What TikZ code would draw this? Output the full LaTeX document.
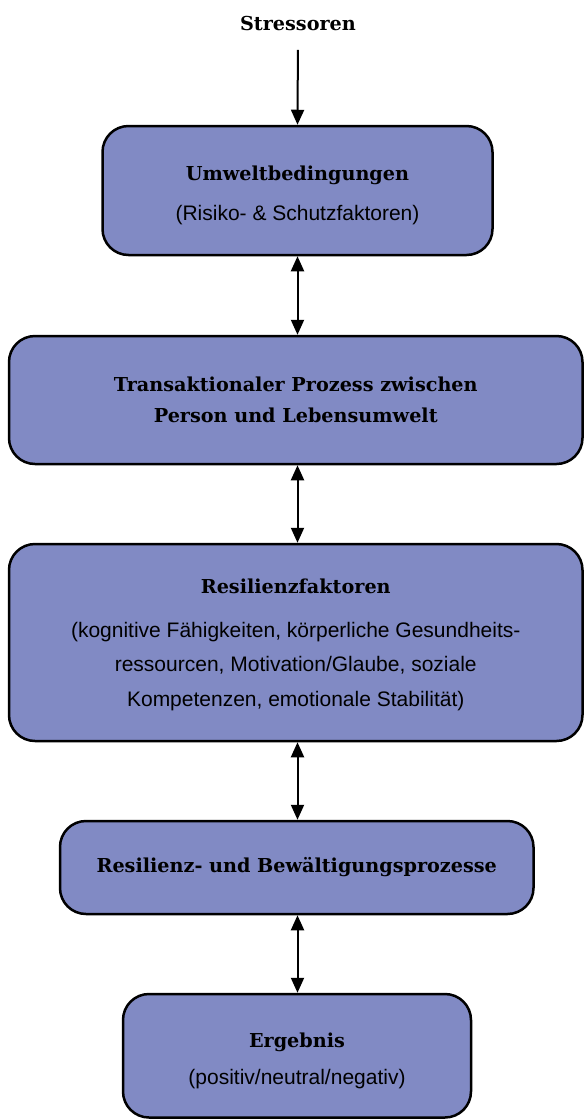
\documentclass[tikz,border=0pt]{standalone}
\usepackage{fontspec}
\setmainfont{Liberation Sans}
\newfontfamily\serifttl{DejaVu Serif}
\usetikzlibrary{arrows.meta}
\definecolor{boxfill}{RGB}{129,138,196}
\tikzset{
  box/.style={draw=black, line width=2.5pt, fill=boxfill, rounded corners=26pt,
    align=center, inner sep=0pt, text=black, font=\sub},
  conn/.style={line width=2pt, {Triangle[length=15pt,width=13pt]}-{Triangle[length=15pt,width=13pt]}},
  oneway/.style={line width=2pt, -{Triangle[length=15pt,width=13pt]}},
}
\newcommand{\ttl}{\serifttl\bfseries\fontsize{19.2}{31}\selectfont}
\newcommand{\sub}{\fontsize{21}{34.5}\selectfont}
\newcommand{\lift}[1]{\rule{0pt}{#1}}
\begin{document}
\begin{tikzpicture}[x=1pt,y=-1pt]
\useasboundingbox (0,0) rectangle (584,1120);
\node[font=\ttl] (s0) at (298,24) {Stressoren};
\node[box, minimum width=390pt, minimum height=129pt] (b1) at (297.5,190.5)
  {\lift{24.6pt}\ttl Umweltbedingungen\\[5.5pt](Risiko- \& Schutzfaktoren)};
\node[box, font=\ttl, minimum width=573.5pt, minimum height=128pt] (b2) at (295.75,400)
  {Transaktionaler Prozess zwischen\\Person und Lebensumwelt};
\node[box, minimum width=573.5pt, minimum height=197pt] (b3) at (295.75,642.5)
  {\lift{19.6pt}\ttl Resilienzfaktoren\\[9pt](kognitive Fähigkeiten, körperliche Gesundheits-\\ressourcen, Motivation/Glaube, soziale\\Kompetenzen, emotionale Stabilität)};
\node[box, font=\ttl, minimum width=473.5pt, minimum height=93pt] (b4) at (296.75,867.5)
  {Resilienz- und Bewältigungsprozesse};
\node[box, minimum width=348pt, minimum height=123.5pt] (b5) at (297,1055.75)
  {\lift{24.6pt}\ttl Ergebnis\\[2pt](positiv/neutral/negativ)};
\draw[oneway, shorten <=15pt] (s0.south) -- (b1.north);
\draw[conn] (b1.south) -- (b1.south |- b2.north);
\draw[conn] (b1.south |- b2.south) -- (b1.south |- b3.north);
\draw[conn] (b1.south |- b3.south) -- (b1.south |- b4.north);
\draw[conn] (b1.south |- b4.south) -- (b1.south |- b5.north);
\end{tikzpicture}
\end{document}
